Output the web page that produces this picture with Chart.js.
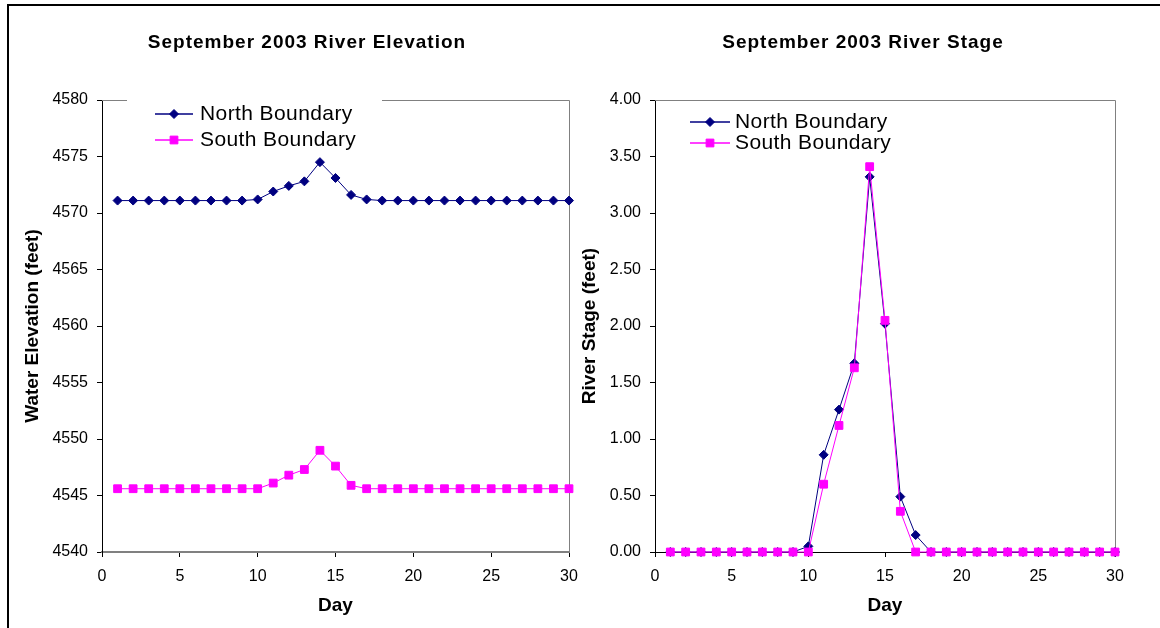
<!DOCTYPE html>
<html><head><meta charset="utf-8">
<script src="https://cdn.jsdelivr.net/npm/chart.js@4.4.1/dist/chart.umd.min.js"></script>
<style>
html,body{margin:0;padding:0;background:#fff;width:1160px;height:628px;overflow:hidden;}
#frame{position:absolute;left:7px;top:4px;width:1160px;height:640px;border-top:2px solid #000;border-left:2px solid #000;}
#wrapL{position:absolute;left:0;top:0;width:580px;height:628px;}
#wrapR{position:absolute;left:570px;top:0;width:590px;height:628px;}
canvas{display:block;}
</style></head><body>
<div id="frame"></div>
<div id="wrapL"><canvas id="cL" width="580" height="628"></canvas></div>
<div id="wrapR"><canvas id="cR" width="590" height="628"></canvas></div>
<script>
// ---- data ----
const days = [1,2,3,4,5,6,7,8,9,10,11,12,13,14,15,16,17,18,19,20,21,22,23,24,25,26,27,28,29,30];
const seriesNames = ['North Boundary', 'South Boundary'];
const elevNorth = [4571.1,4571.1,4571.1,4571.1,4571.1,4571.1,4571.1,4571.1,4571.1,4571.2,
                   4571.9,4572.4,4572.8,4574.5,4573.1,4571.6,4571.2,4571.1,4571.1,4571.1,
                   4571.1,4571.1,4571.1,4571.1,4571.1,4571.1,4571.1,4571.1,4571.1,4571.1];
const elevSouth = [4545.6,4545.6,4545.6,4545.6,4545.6,4545.6,4545.6,4545.6,4545.6,4545.6,
                   4546.1,4546.8,4547.3,4549.0,4547.6,4545.9,4545.6,4545.6,4545.6,4545.6,
                   4545.6,4545.6,4545.6,4545.6,4545.6,4545.6,4545.6,4545.6,4545.6,4545.6];
const stageNorth = [0,0,0,0,0,0,0,0,0,0.05,
                    0.86,1.26,1.67,3.32,2.02,0.49,0.15,0,0,0,
                    0,0,0,0,0,0,0,0,0,0];
const stageSouth = [0,0,0,0,0,0,0,0,0,0,
                    0.60,1.12,1.63,3.41,2.05,0.36,0,0,0,0,
                    0,0,0,0,0,0,0,0,0,0];
const xTicks = [0,5,10,15,20,25,30];
const elevTicks = [4540,4545,4550,4555,4560,4565,4570,4575,4580];
const stageTicks = [0,0.5,1,1.5,2,2.5,3,3.5,4];
const titles = ['September 2003 River Elevation', 'September 2003 River Stage'];
const yTitles = ['Water Elevation (feet)', 'River Stage (feet)'];
const xTitle = 'Day';

const NORTH = '#000080';
const SOUTH = '#FF00FF';

const decorPlugin = {
  id: 'decor',
  beforeDatasetsDraw(chart) {
    const o = chart.options.plugins.decor;
    const {ctx} = chart;
    const {left, right, top, bottom} = chart.chartArea;
    ctx.save();
    ctx.strokeStyle = '#808080';
    ctx.lineWidth = 1;
    ctx.beginPath();
    ctx.moveTo(left, top + 0.5);
    ctx.lineTo(right + 0.5, top + 0.5);
    ctx.lineTo(right + 0.5, bottom);
    ctx.stroke();
    if (o.box) {
      ctx.fillStyle = '#fff';
      ctx.fillRect(o.box[0], o.box[1], o.box[2], o.box[3]);
    }
    ctx.restore();
  },
  afterDatasetsDraw(chart) {
    const o = chart.options.plugins.decor;
    const {ctx} = chart;
    ctx.save();
    chart.data.datasets.forEach((ds, i) => {
      const y = o.legY[i];
      ctx.strokeStyle = ds.borderColor;
      ctx.lineWidth = 1.5;
      ctx.beginPath();
      ctx.moveTo(o.legX1, y);
      ctx.lineTo(o.legX2, y);
      ctx.stroke();
      ctx.fillStyle = ds.backgroundColor;
      ctx.strokeStyle = ds.borderColor;
      ctx.lineWidth = 1;
      Chart.helpers.drawPoint(ctx, {pointStyle: ds.pointStyle, radius: ds.pointRadius, borderWidth: 1, rotation: 0},
        (o.legX1 + o.legX2) / 2, y);
      ctx.fillStyle = '#000';
      ctx.font = '21px Arial, "Liberation Sans", sans-serif';
      if ('letterSpacing' in ctx) ctx.letterSpacing = '0.4px';
      ctx.textBaseline = 'middle';
      ctx.textAlign = 'left';
      ctx.fillText(ds.label, o.legTX, y);
    });
    // title
    ctx.font = 'bold 19px Arial, "Liberation Sans", sans-serif';
    if ('letterSpacing' in ctx) ctx.letterSpacing = '1px';
    ctx.textAlign = 'center';
    ctx.textBaseline = 'middle';
    ctx.fillStyle = '#000';
    ctx.fillText(o.title, o.titleX, 43);
    ctx.restore();
  }
};

function makeChart(id, c) {
  return new Chart(document.getElementById(id), {
    type: 'line',
    data: {
      datasets: [
        {label: seriesNames[0], data: days.map((d, i) => ({x: d, y: c.north[i]})),
         borderColor: NORTH, backgroundColor: NORTH, pointStyle: 'rectRot', pointRadius: 4.5,
         pointBorderWidth: 1, borderWidth: 1, order: 1, clip: false, tension: 0},
        {label: seriesNames[1], data: days.map((d, i) => ({x: d, y: c.south[i]})),
         borderColor: SOUTH, backgroundColor: SOUTH, pointStyle: 'rect', pointRadius: 5.5,
         pointBorderWidth: 1, borderWidth: 1, order: 0, clip: false, tension: 0}
      ]
    },
    options: {
      responsive: false, animation: false, events: [],
      layout: {padding: {left: 0, right: c.padRight, top: 100, bottom: 0}},
      plugins: {
        legend: {display: false}, tooltip: {enabled: false}, title: {display: false},
        decor: c.decor
      },
      scales: {
        x: {
          type: 'linear', min: 0, max: 30,
          afterBuildTicks: (s) => { s.ticks = xTicks.map(v => ({value: v})); },
          ticks: {color: '#000', font: {family: 'Arial', size: 16}, padding: 10, maxRotation: 0, autoSkip: false},
          grid: {drawOnChartArea: false, drawTicks: true, tickLength: 5, color: '#000'},
          border: {color: c.xAxisColor, width: c.xAxisWidth},
          title: {display: true, text: xTitle, color: '#000',
                  font: {family: 'Arial', size: 19, weight: 'bold', lineHeight: 1.2},
                  padding: {top: 0, bottom: 11}},
          afterFit: (s) => { s.height = 76; s.paddingLeft = 0; s.paddingRight = 0; }
        },
        y: {
          type: 'linear', min: c.yMin, max: c.yMax,
          afterBuildTicks: (s) => { s.ticks = c.yTicks.map(v => ({value: v})); },
          ticks: {color: '#000', font: {family: 'Arial', size: 16}, padding: 9, autoSkip: false,
                  callback: c.fmt},
          grid: {drawOnChartArea: false, drawTicks: true, tickLength: 5, color: '#000'},
          border: {color: '#000', width: 1},
          title: {display: true, text: c.yTitle, color: '#000',
                  font: {family: 'Arial', size: 19, weight: 'bold', lineHeight: 1.2},
                  padding: {top: c.yTitlePad, bottom: 0}},
          afterFit: (s) => { s.width = c.yWidth; s.paddingTop = 0; s.paddingBottom = 0; }
        }
      }
    },
    plugins: [decorPlugin]
  });
}

makeChart('cL', {
  north: elevNorth, south: elevSouth, yMin: 4540, yMax: 4580, yTicks: elevTicks,
  fmt: (v) => String(v), yTitle: yTitles[0], yTitlePad: 21, yWidth: 102, padRight: 11,
  xAxisColor: '#808080', xAxisWidth: 2,
  decor: {title: titles[0], titleX: 307, box: [127, 94, 255, 60],
          legX1: 155, legX2: 193, legTX: 200, legY: [114, 140]}
});
makeChart('cR', {
  north: stageNorth, south: stageSouth, yMin: 0, yMax: 4, yTicks: stageTicks,
  fmt: (v) => Number(v).toFixed(2), yTitle: yTitles[1], yTitlePad: 8, yWidth: 85, padRight: 45,
  xAxisColor: '#000', xAxisWidth: 1,
  decor: {title: titles[1], titleX: 293, box: null,
          legX1: 120, legX2: 160, legTX: 165, legY: [122, 143]}
});
</script>
</body></html>
